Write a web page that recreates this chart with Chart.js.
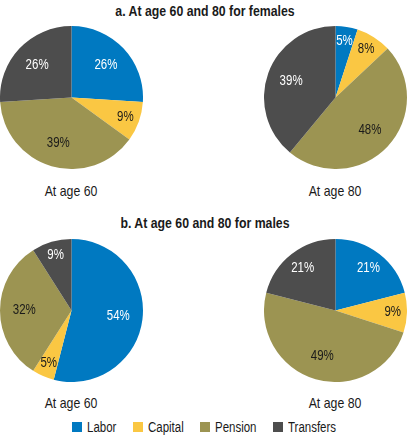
<!DOCTYPE html>
<html>
<head>
<meta charset="utf-8">
<script src="https://cdn.jsdelivr.net/npm/chart.js@4"></script>
<style>
  html, body { margin: 0; padding: 0; background: #fff; }
  body { width: 408px; height: 435px; position: relative; overflow: hidden;
         font-family: "Liberation Sans", Arial, sans-serif; color: #1a1a1a; }
  .t { position: absolute; white-space: nowrap; transform: translate(-50%, -50%) scaleX(0.82); }
  .title { font-weight: bold; font-size: 15px; }
  .sub { font-size: 15px; }
  canvas { position: absolute; }
  #legend { position: absolute; left: 0; width: 408px; top: 419px; display: flex; justify-content: center; font-size: 14px; line-height: 16px; }
  #legend .item { display: flex; align-items: center; margin: 0 8.5px; }
  #legend .box { width: 10px; height: 10px; margin-right: 4.5px; flex: none; }
  #legend .lab { display: inline-block; overflow: visible; white-space: nowrap; }
  #legend .lab span { display: inline-block; transform: scaleX(0.82); transform-origin: left center; }
</style>
</head>
<body>
<div class="t title" style="left:205px; top:10px;">a. At age 60 and 80 for females</div>
<div class="t title" style="left:205px; top:222px;">b. At age 60 and 80 for males</div>
<div class="t sub" style="left:71px; top:190px;">At age 60</div>
<div class="t sub" style="left:335px; top:190px;">At age 80</div>
<div class="t sub" style="left:71px; top:402px;">At age 60</div>
<div class="t sub" style="left:335px; top:402px;">At age 80</div>
<canvas id="f60" width="143" height="143" style="left:0px; top:26px;"></canvas>
<canvas id="f80" width="143" height="143" style="left:264px; top:26px;"></canvas>
<canvas id="m60" width="143" height="143" style="left:0px; top:239px;"></canvas>
<canvas id="m80" width="143" height="143" style="left:264px; top:239px;"></canvas>
<div id="legend"></div>
<script>
const categories = ["Labor", "Capital", "Pension", "Transfers"];
const colors = ["#0079C1", "#FAC743", "#9C9452", "#4D4D4D"];
const labelColors = ["#ffffff", "#1a1a1a", "#1a1a1a", "#ffffff"];
const females60 = [26, 9, 39, 26];
const females80 = [5, 8, 48, 39];
const males60 = [54, 5, 32, 9];
const males80 = [21, 9, 49, 21];

const SQUEEZE = 0.82;
const sliceLabels = {
  id: 'sliceLabels',
  afterDatasetsDraw(chart) {
    const ctx = chart.ctx;
    const meta = chart.getDatasetMeta(0);
    const data = chart.data.datasets[0].data;
    meta.data.forEach((arc, i) => {
      const p = arc.getProps(['x', 'y', 'startAngle', 'endAngle', 'outerRadius'], true);
      const mid = (p.startAngle + p.endAngle) / 2;
      const v = data[i];
      const frac = v < 10 ? 0.8 : (v < 25 ? 0.75 : 0.66);
      const r = p.outerRadius * frac;
      ctx.save();
      ctx.translate(p.x + Math.cos(mid) * r, p.y + Math.sin(mid) * r);
      ctx.scale(SQUEEZE, 1);
      ctx.font = '14px "Liberation Sans", Arial, sans-serif';
      ctx.textAlign = 'center';
      ctx.textBaseline = 'middle';
      ctx.fillStyle = labelColors[i];
      ctx.fillText(v + '%', 0, 0);
      ctx.restore();
    });
  }
};

function makePie(id, values) {
  new Chart(document.getElementById(id), {
    type: 'pie',
    data: {
      labels: categories,
      datasets: [{ data: values, backgroundColor: colors, borderWidth: 0 }]
    },
    options: {
      responsive: false,
      animation: false,
      layout: { padding: 0 },
      plugins: { legend: { display: false }, tooltip: { enabled: false } }
    },
    plugins: [sliceLabels]
  });
}
makePie('f60', females60);
makePie('f80', females80);
makePie('m60', males60);
makePie('m80', males80);

const measureCtx = document.createElement('canvas').getContext('2d');
measureCtx.font = '14px "Liberation Sans", Arial, sans-serif';
const legend = document.getElementById('legend');
categories.forEach((c, i) => {
  const item = document.createElement('div');
  item.className = 'item';
  const box = document.createElement('div');
  box.className = 'box';
  box.style.background = colors[i];
  const lab = document.createElement('div');
  lab.className = 'lab';
  lab.style.width = (measureCtx.measureText(c).width * SQUEEZE) + 'px';
  const span = document.createElement('span');
  span.textContent = c;
  lab.appendChild(span);
  item.appendChild(box);
  item.appendChild(lab);
  legend.appendChild(item);
});
</script>
</body>
</html>
